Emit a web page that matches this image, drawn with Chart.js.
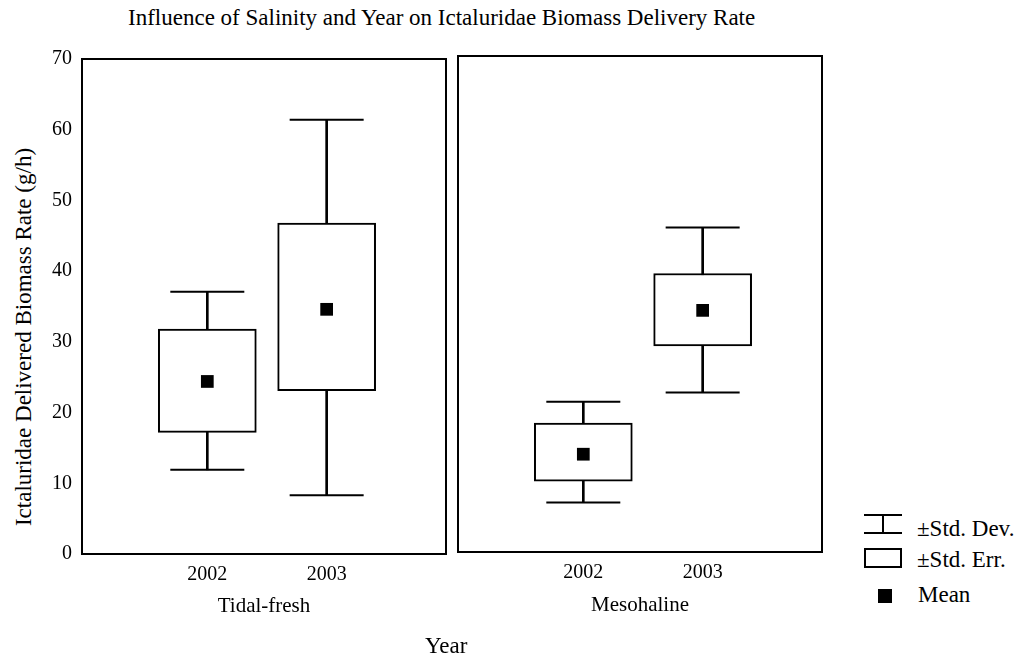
<!DOCTYPE html>
<html lang="en">
<head>
    <meta charset="UTF-8">
    <title>Influence of Salinity and Year on Ictaluridae Biomass Delivery Rate</title>
    <script src="https://cdn.jsdelivr.net/npm/chart.js"></script>
    <style>
        body {
            margin: 0;
            background: #fff;
            font-family: "Liberation Serif", "Times New Roman", serif;
            color: #000;
        }
        #page {
            position: relative;
            width: 1017px;
            height: 660px;
            overflow: hidden;
        }
        canvas {
            position: absolute;
            top: 0;
        }
        .txt {
            position: absolute;
            white-space: nowrap;
            line-height: 1;
            font-size: 23px;
        }
        .ibeam {
            position: absolute;
            box-sizing: border-box;
            border-top: 2px solid #000;
            border-bottom: 2px solid #000;
        }
        .ibeam::after {
            content: "";
            position: absolute;
            left: 18px;
            top: 0;
            width: 2px;
            height: 100%;
            background: #000;
        }
        .sebox {
            position: absolute;
            box-sizing: border-box;
            border: 2px solid #000;
        }
        .meanmark {
            position: absolute;
            background: #000;
        }
    </style>
</head>
<body>
<div id="page">
    <div class="txt" style="left:128px; top:6px;">Influence of Salinity and Year on Ictaluridae Biomass Delivery Rate</div>
    <div class="txt" style="left:23px; top:337px; transform: translate(-50%, -50%) rotate(-90deg);">Ictaluridae Delivered Biomass Rate (g/h)</div>

    <canvas id="tidalChart" width="452" height="640" style="left:0px;"></canvas>
    <canvas id="mesoChart" width="376" height="640" style="left:452px;"></canvas>

    <div class="txt" style="left:425px; top:634px;">Year</div>

    <!-- legend -->
    <div class="ibeam" style="left:864px; top:514px; width:38px; height:20px;"></div>
    <div class="txt" style="left:917px; top:517px;">±Std. Dev.</div>
    <div class="sebox" style="left:864px; top:548px; width:38px; height:20px;"></div>
    <div class="txt" style="left:917px; top:548px;">±Std. Err.</div>
    <div class="meanmark" style="left:878px; top:589px; width:14px; height:14px;"></div>
    <div class="txt" style="left:918px; top:583px;">Mean</div>
</div>

<script>
    // categories
    var years = [2002, 2003];

    // Tidal-fresh
    var tidalMean = [24.4, 34.6];
    var tidalSeLow = [17.2, 23.1];
    var tidalSeHigh = [31.8, 46.8];
    var tidalSdLow = [11.9, 8.3];
    var tidalSdHigh = [37.1, 61.4];

    // Mesohaline
    var mesoMean = [13.8, 34.1];
    var mesoSeLow = [10.0, 29.1];
    var mesoSeHigh = [18.2, 39.3];
    var mesoSdLow = [7.0, 22.5];
    var mesoSdHigh = [21.2, 45.8];

    // y axis ticks
    var yMin = 0, yMax = 70, yStep = 10;

    Chart.defaults.font.family = '"Liberation Serif", "Times New Roman", serif';
    Chart.defaults.font.size = 20;
    Chart.defaults.color = '#000';

    // draws the box round each panel
    var frame = {
        id: 'frame',
        afterDraw: function (chart) {
            var a = chart.chartArea, ctx = chart.ctx;
            ctx.save();
            ctx.strokeStyle = '#000';
            ctx.lineWidth = 2;
            ctx.strokeRect(a.left, a.top, a.right - a.left, a.bottom - a.top);
            ctx.restore();
        }
    };

    function makePanel(id, title, mean, seLow, seHigh, sdLow, sdHigh, opts) {
        var caps = [];
        years.forEach(function (y, i) {
            caps.push({x: y, y: sdHigh[i]});
            caps.push({x: y, y: sdLow[i]});
        });

        return new Chart(document.getElementById(id), {
            type: 'bar',
            data: {
                datasets: [
                    {
                        type: 'scatter',
                        label: 'Mean',
                        data: years.map(function (y, i) { return {x: y, y: mean[i]}; }),
                        pointStyle: 'rect',
                        pointRadius: 9,
                        backgroundColor: '#000',
                        borderColor: '#000',
                        borderWidth: 0,
                        order: 0
                    },
                    {
                        label: '±Std. Err.',
                        data: years.map(function (y, i) { return {x: y, y: [seLow[i], seHigh[i]]}; }),
                        backgroundColor: '#fff',
                        borderColor: '#000',
                        borderWidth: 2,
                        borderSkipped: false,
                        barThickness: 98,
                        grouped: false,
                        order: 1
                    },
                    {
                        label: '±Std. Dev.',
                        data: years.map(function (y, i) { return {x: y, y: [sdLow[i], sdHigh[i]]}; }),
                        backgroundColor: '#000',
                        borderWidth: 0,
                        barThickness: 2,
                        grouped: false,
                        order: 2
                    },
                    {
                        type: 'scatter',
                        label: 'caps',
                        data: caps,
                        pointStyle: 'line',
                        pointRadius: 37,
                        borderColor: '#000',
                        borderWidth: 2,
                        order: 3
                    }
                ]
            },
            options: {
                responsive: false,
                animation: false,
                events: [],
                layout: {padding: opts.padding, autoPadding: false},
                plugins: {
                    legend: {display: false},
                    tooltip: {enabled: false}
                },
                scales: {
                    x: {
                        type: 'linear',
                        min: 2000.95,
                        max: 2004,
                        offset: false,
                        grid: {display: false, drawTicks: false},
                        border: {display: false},
                        afterBuildTicks: function (scale) {
                            scale.ticks = years.map(function (y) { return {value: y}; });
                        },
                        afterFit: function (scale) {
                            scale.height = opts.xHeight;
                            scale.paddingLeft = 0;
                            scale.paddingRight = 0;
                        },
                        ticks: {
                            padding: 9,
                            callback: function (v) { return String(v); }
                        },
                        title: {
                            display: true,
                            text: title,
                            font: {size: 21},
                            padding: {top: 0, bottom: opts.titlePad}
                        }
                    },
                    y: {
                        display: opts.showY,
                        min: yMin,
                        max: yMax,
                        grid: {display: false, drawTicks: false},
                        border: {display: false},
                        afterFit: function (scale) {
                            if (opts.showY) scale.width = 82;
                        },
                        ticks: {
                            stepSize: yStep,
                            padding: 10
                        }
                    }
                }
            },
            plugins: [frame]
        });
    }

    makePanel('tidalChart', 'Tidal-fresh', tidalMean, tidalSeLow, tidalSeHigh, tidalSdLow, tidalSdHigh,
        {padding: {top: 59, right: 6, left: 0, bottom: 0}, xHeight: 86, titlePad: 21, showY: true});
    makePanel('mesoChart', 'Mesohaline', mesoMean, mesoSeLow, mesoSeHigh, mesoSdLow, mesoSdHigh,
        {padding: {top: 56, right: 6, left: 6, bottom: 0}, xHeight: 88, titlePad: 22, showY: false});
</script>
</body>
</html>
